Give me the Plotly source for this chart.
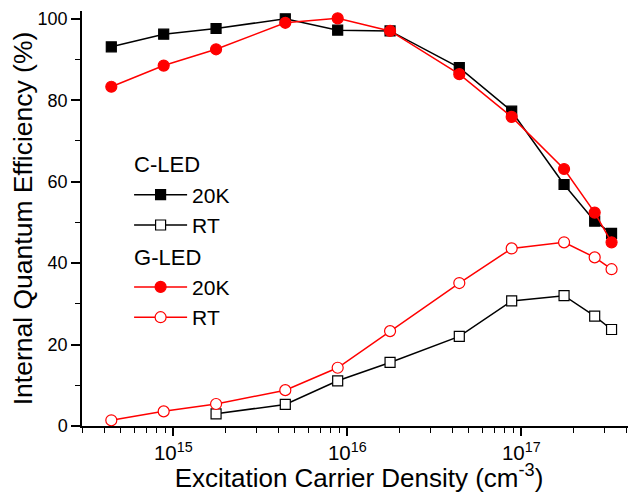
import plotly.graph_objects as go

# Excitation carrier density (cm^-3)
density = [4.4e14, 8.8e14, 1.76e15, 4.4e15, 8.8e15, 1.76e16, 4.4e16, 8.8e16, 1.76e17, 2.64e17, 3.3e17]

# Internal quantum efficiency (%)
cled_20k = [93.1, 96.2, 97.6, 100.0, 97.2, 97.0, 88.0, 77.3, 59.3, 50.3, 47.3]
cled_rt = [None, None, 3.0, 5.3, 11.1, 15.6, 22.0, 30.7, 32.0, 27.0, 23.7]
gled_20k = [83.3, 88.5, 92.5, 99.0, 100.1, 97.0, 86.4, 75.9, 63.1, 52.4, 45.1]
gled_rt = [1.4, 3.6, 5.4, 8.8, 14.3, 23.3, 35.1, 43.6, 45.1, 41.4, 38.5]

x_major = [1e15, 1e16, 1e17]
x_major_text = ["10<sup>15</sup>", "10<sup>16</sup>", "10<sup>17</sup>"]
x_minor = [m * 10 ** e for e in (14, 15, 16, 17) for m in range(2, 10)]
y_major = [0, 20, 40, 60, 80, 100]
y_minor = [10, 30, 50, 70, 90]

xr = [14.475, 17.659]
yr = [0, 101.9]

FONT = "Liberation Sans, Arial, sans-serif"
BLACK = "#000000"
RED = "#ff0000"

fig = go.Figure()

def add(y, name, color, symbol, filled, group, title):
    fig.add_trace(go.Scatter(
        x=density, y=y, name=name, mode="lines+markers",
        line=dict(color=color, width=1.5),
        marker=dict(symbol=symbol, size=11 if symbol == "circle" else 10,
                    color=color if filled else "white",
                    line=dict(color=color, width=1.2)),
        legendgroup=group,
        legendgrouptitle=dict(text=title, font=dict(size=22, color=BLACK, family=FONT)),
        connectgaps=False,
    ))

add(cled_20k, "20K", BLACK, "square", True, "c", "C-LED")
add(cled_rt, "RT", BLACK, "square", False, "c", "C-LED")
add(gled_20k, "20K", RED, "circle", True, "g", "G-LED")
add(gled_rt, "RT", RED, "circle", False, "g", "G-LED")

fig.update_layout(
    width=628, height=485,
    margin=dict(l=74, r=0, t=3, b=67),
    paper_bgcolor="white", plot_bgcolor="white",
    font=dict(family=FONT, color=BLACK),
    showlegend=True,
    legend=dict(
        x=0.085, y=0.682, xanchor="left", yanchor="top",
        bgcolor="rgba(0,0,0,0)", borderwidth=0,
        font=dict(size=21, family=FONT, color=BLACK),
        tracegroupgap=0, itemwidth=53,
    ),
    xaxis=dict(
        type="log", range=xr, showgrid=False, zeroline=False,
        showline=True, linecolor=BLACK, linewidth=1.5,
        ticks="outside", ticklen=8, tickwidth=1.5, tickcolor=BLACK,
        tickvals=x_major, ticktext=x_major_text,
        tickfont=dict(size=20.5, family=FONT, color=BLACK),
        minor=dict(tickvals=x_minor, ticks="outside", ticklen=5, tickwidth=1.2, tickcolor=BLACK),
        title=dict(text="Excitation Carrier Density (cm<sup>-3</sup>)",
                   font=dict(size=26, family=FONT, color=BLACK), standoff=4),
    ),
    yaxis=dict(
        range=yr, showgrid=False, zeroline=False,
        showline=True, linecolor=BLACK, linewidth=1.5,
        ticks="outside", ticklen=9, tickwidth=1.5, tickcolor=BLACK,
        tickvals=y_major,
        tickfont=dict(size=18, family=FONT, color=BLACK),
        minor=dict(tickvals=y_minor, ticks="outside", ticklen=5, tickwidth=1.2, tickcolor=BLACK),
        title=dict(text="Internal Quantum Efficiency (%)",
                   font=dict(size=26.5, family=FONT, color=BLACK), standoff=4),
    ),
    xaxis2=dict(
        type="log", range=xr, overlaying="x", side="top", anchor="y",
        showgrid=False, zeroline=False, showline=True, linecolor=BLACK, linewidth=1.5,
        ticks="inside", ticklen=5, tickwidth=1.2, tickcolor=BLACK,
        tickvals=x_major, showticklabels=False,
        minor=dict(tickvals=x_minor, ticks="inside", ticklen=3, tickwidth=1, tickcolor=BLACK),
    ),
    yaxis2=dict(
        range=yr, overlaying="y", side="right", anchor="x",
        showgrid=False, zeroline=False, showline=False,
        ticks="inside", ticklen=4, tickwidth=1.2, tickcolor=BLACK,
        tickvals=y_major, showticklabels=False,
    ),
)

fig.write_html("out.html")
